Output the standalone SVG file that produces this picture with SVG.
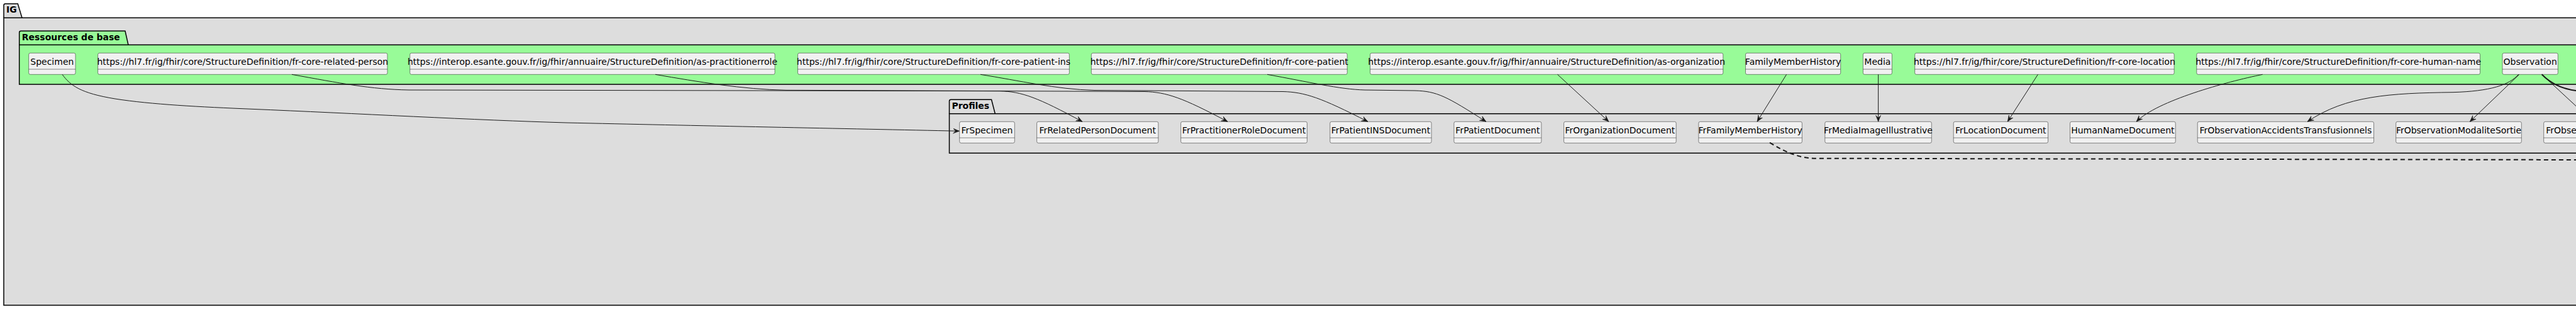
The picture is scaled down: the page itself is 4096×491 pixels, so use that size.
<svg xmlns="http://www.w3.org/2000/svg" width="4096" height="491" viewBox="0 0 4096 491">
<style>
.pkg{fill:#DDDDDD;stroke:#000000;stroke-width:1.5}
.pkgg{fill:#98FB98;stroke:#000000;stroke-width:1.5}
.ptitle{font-family:"DejaVu Sans",sans-serif;font-size:14px;font-weight:bold;fill:#000000}
.box{fill:#F1F1F1;stroke:#181818;stroke-width:0.5}
.sep{stroke:#181818;stroke-width:0.5}
.lbl{font-family:"DejaVu Sans",sans-serif;font-size:14px;fill:#000000;text-anchor:middle}
.edge{fill:none;stroke:#181818;stroke-width:1}
.thick{fill:none;stroke:#181818;stroke-width:2}
.dash{fill:none;stroke:#181818;stroke-width:2;stroke-dasharray:7,5}
</style>
<defs>
<marker id="arr" markerUnits="userSpaceOnUse" markerWidth="10" markerHeight="10" refX="10" refY="5" orient="auto">
<path d="M0,1 L10,5 L0,9 L4,5 Z" fill="#181818" stroke="#181818" stroke-width="0.5"/>
</marker>
</defs>

<g id="pkg-ig">
<path class="pkg" d="M6,28.3 L6,8.5 A2.5,2.5 0 0 1 8.5,6 L28.3,6 L35,28.3"/>
<rect class="pkg" x="6" y="28.3" width="4200" height="456.7"/>
<text class="ptitle" x="10" y="20.3">IG</text>
</g>

<g id="pkg-base">
<path class="pkgg" d="M30.7,71.3 L30.7,51.8 A2.5,2.5 0 0 1 33.2,49.3 L199,49.3 L204,71.3"/>
<rect class="pkgg" x="30.7" y="71.3" width="4200" height="62.7"/>
<text class="ptitle" x="34.7" y="64">Ressources de base</text>
</g>

<g id="pkg-profiles">
<path class="pkg" d="M1509.5,180.7 L1509.5,160.8 A2.5,2.5 0 0 1 1512,158.3 L1576.5,158.3 L1582.3,180.7"/>
<rect class="pkg" x="1509.5" y="180.7" width="2700" height="62.6"/>
<text class="ptitle" x="1513.4" y="172.5">Profiles</text>
</g>

<g id="n-specimen"><rect class="box" x="45.7" y="84.3" width="74.3" height="34" rx="2.5"/><line class="sep" x1="45.7" y1="110" x2="120" y2="110"/><text class="lbl" x="82.85" y="102.5">Specimen</text></g>
<g id="n-related-person"><rect class="box" x="155.6" y="84.3" width="460.4" height="34" rx="2.5"/><line class="sep" x1="155.6" y1="110" x2="616" y2="110"/><text class="lbl" x="385.8" y="102.5">https://hl7.fr/ig/fhir/core/StructureDefinition/fr-core-related-person</text></g>
<g id="n-as-practitionerrole"><rect class="box" x="651.8" y="84.3" width="580.3" height="34" rx="2.5"/><line class="sep" x1="651.8" y1="110" x2="1232.1" y2="110"/><text class="lbl" x="941.95" y="102.5">https://interop.esante.gouv.fr/ig/fhir/annuaire/StructureDefinition/as-practitionerrole</text></g>
<g id="n-patient-ins"><rect class="box" x="1268.5" y="84.3" width="431.8" height="34" rx="2.5"/><line class="sep" x1="1268.5" y1="110" x2="1700.3" y2="110"/><text class="lbl" x="1484.4" y="102.5">https://hl7.fr/ig/fhir/core/StructureDefinition/fr-core-patient-ins</text></g>
<g id="n-patient"><rect class="box" x="1735.3" y="84.3" width="406.9" height="34" rx="2.5"/><line class="sep" x1="1735.3" y1="110" x2="2142.2" y2="110"/><text class="lbl" x="1938.75" y="102.5">https://hl7.fr/ig/fhir/core/StructureDefinition/fr-core-patient</text></g>
<g id="n-as-organization"><rect class="box" x="2178.6" y="84.3" width="561.2" height="34" rx="2.5"/><line class="sep" x1="2178.6" y1="110" x2="2739.8" y2="110"/><text class="lbl" x="2459.2" y="102.5">https://interop.esante.gouv.fr/ig/fhir/annuaire/StructureDefinition/as-organization</text></g>
<g id="n-familymemberhistory"><rect class="box" x="2775.5" y="84.3" width="151.2" height="34" rx="2.5"/><line class="sep" x1="2775.5" y1="110" x2="2926.7" y2="110"/><text class="lbl" x="2851.1" y="102.5">FamilyMemberHistory</text></g>
<g id="n-media"><rect class="box" x="2962.4" y="84.3" width="46" height="34" rx="2.5"/><line class="sep" x1="2962.4" y1="110" x2="3008.4" y2="110"/><text class="lbl" x="2985.4" y="102.5">Media</text></g>
<g id="n-location"><rect class="box" x="3044.7" y="84.3" width="412.4" height="34" rx="2.5"/><line class="sep" x1="3044.7" y1="110" x2="3457.1" y2="110"/><text class="lbl" x="3250.9" y="102.5">https://hl7.fr/ig/fhir/core/StructureDefinition/fr-core-location</text></g>
<g id="n-human-name"><rect class="box" x="3492.8" y="84.3" width="450.7" height="34" rx="2.5"/><line class="sep" x1="3492.8" y1="110" x2="3943.5" y2="110"/><text class="lbl" x="3718.15" y="102.5">https://hl7.fr/ig/fhir/core/StructureDefinition/fr-core-human-name</text></g>
<g id="n-observation"><rect class="box" x="3979" y="84.3" width="88.3" height="34" rx="2.5"/><line class="sep" x1="3979" y1="110" x2="4067.3" y2="110"/><text class="lbl" x="4023.15" y="102.5">Observation</text></g>

<g id="p-frspecimen"><rect class="box" x="1525.7" y="193.3" width="87.6" height="34" rx="2.5"/><line class="sep" x1="1525.7" y1="219" x2="1613.3" y2="219"/><text class="lbl" x="1569.5" y="211.5">FrSpecimen</text></g>
<g id="p-frrelatedpersondocument"><rect class="box" x="1648.6" y="193.3" width="193.2" height="34" rx="2.5"/><line class="sep" x1="1648.6" y1="219" x2="1841.8" y2="219"/><text class="lbl" x="1745.2" y="211.5">FrRelatedPersonDocument</text></g>
<g id="p-frpractitionerroledocument"><rect class="box" x="1877.6" y="193.3" width="200.8" height="34" rx="2.5"/><line class="sep" x1="1877.6" y1="219" x2="2078.4" y2="219"/><text class="lbl" x="1978" y="211.5">FrPractitionerRoleDocument</text></g>
<g id="p-frpatientinsdocument"><rect class="box" x="2114.8" y="193.3" width="161.3" height="34" rx="2.5"/><line class="sep" x1="2114.8" y1="219" x2="2276.1" y2="219"/><text class="lbl" x="2195.45" y="211.5">FrPatientINSDocument</text></g>
<g id="p-frpatientdocument"><rect class="box" x="2311.9" y="193.3" width="139" height="34" rx="2.5"/><line class="sep" x1="2311.9" y1="219" x2="2450.9" y2="219"/><text class="lbl" x="2381.4" y="211.5">FrPatientDocument</text></g>
<g id="p-frorganizationdocument"><rect class="box" x="2486.6" y="193.3" width="178.6" height="34" rx="2.5"/><line class="sep" x1="2486.6" y1="219" x2="2665.2" y2="219"/><text class="lbl" x="2575.9" y="211.5">FrOrganizationDocument</text></g>
<g id="p-frfamilymemberhistory"><rect class="box" x="2700.9" y="193.3" width="164.5" height="34" rx="2.5"/><line class="sep" x1="2700.9" y1="219" x2="2865.4" y2="219"/><text class="lbl" x="2783.15" y="211.5">FrFamilyMemberHistory</text></g>
<g id="p-frmediaimageillustrative"><rect class="box" x="2901.8" y="193.3" width="169.5" height="34" rx="2.5"/><line class="sep" x1="2901.8" y1="219" x2="3071.3" y2="219"/><text class="lbl" x="2986.55" y="211.5">FrMediaImageIllustrative</text></g>
<g id="p-frlocationdocument"><rect class="box" x="3106.2" y="193.3" width="150.3" height="34" rx="2.5"/><line class="sep" x1="3106.2" y1="219" x2="3256.5" y2="219"/><text class="lbl" x="3181.35" y="211.5">FrLocationDocument</text></g>
<g id="p-humannamedocument"><rect class="box" x="3291.5" y="193.3" width="167.7" height="34" rx="2.5"/><line class="sep" x1="3291.5" y1="219" x2="3459.2" y2="219"/><text class="lbl" x="3375.35" y="211.5">HumanNameDocument</text></g>
<g id="p-frobservationaccidentstransfusionnels"><rect class="box" x="3494.2" y="193.3" width="280.3" height="34" rx="2.5"/><line class="sep" x1="3494.2" y1="219" x2="3774.5" y2="219"/><text class="lbl" x="3634.35" y="211.5">FrObservationAccidentsTransfusionnels</text></g>
<g id="p-frobservationmodalitesortie"><rect class="box" x="3809.7" y="193.3" width="199.6" height="34" rx="2.5"/><line class="sep" x1="3809.7" y1="219" x2="4009.3" y2="219"/><text class="lbl" x="3909.5" y="211.5">FrObservationModaliteSortie</text></g>
<g id="p-frobse"><rect class="box" x="4044.7" y="193.3" width="200" height="34" rx="2.5"/><line class="sep" x1="4044.7" y1="219" x2="4244.7" y2="219"/><text class="lbl" x="4048.3" y="211.5" style="text-anchor:start">FrObse</text></g>

<g id="connectors">
<path class="edge" marker-end="url(#arr)" d="M99,118.3 C112,136 128,148 183,157 C240,166 320,170 400,173.3 C560,180 760,191 900,195 C1100,199.5 1350,204.5 1525.5,208.3"/>
<path class="edge" marker-end="url(#arr)" d="M464,118.3 C540,132 590,142 650,143 L1590,144.7 C1625,145.5 1650,155 1721,193.3"/>
<path class="edge" marker-end="url(#arr)" d="M1042,118.3 C1110,130 1180,142 1250,143.3 L1820,145.5 C1855,146.5 1880,155 1952,193.3"/>
<path class="edge" marker-end="url(#arr)" d="M1559,118.3 C1620,128 1680,142 1740,143.5 L2040,145.5 C2075,146.5 2100,155 2175,193.3"/>
<path class="edge" marker-end="url(#arr)" d="M2015,118.3 C2080,130 2130,142 2170,143 L2250,144 C2285,145 2300,153 2363,193.3"/>
<path class="edge" marker-end="url(#arr)" d="M2476.5,118.3 L2558,193.3"/>
<path class="edge" marker-end="url(#arr)" d="M2840.6,118.3 L2794,193.3"/>
<path class="edge" marker-end="url(#arr)" d="M2986.6,118.3 L2986.6,193.3"/>
<path class="edge" marker-end="url(#arr)" d="M3240.4,118.3 L3192.2,193.3"/>
<path class="edge" marker-end="url(#arr)" d="M3597.6,118.3 C3540,130 3430,160 3397,193.3"/>
<path class="edge" marker-end="url(#arr)" d="M4004.5,118.3 C3990,135 3960,145 3900,146.7 C3800,148 3730,152 3669,193.3"/>
<path class="edge" marker-end="url(#arr)" d="M4005.7,118.3 L3927.3,193.3"/>
<path class="edge" d="M4041.7,118.3 L4130,200"/>
<path class="thick" d="M4041.7,118.3 C4055,132 4072,141 4096,144 L4160,146"/>
<path class="dash" d="M2814,226.7 C2840,242 2860,251.7 2890,251.7 L4100,254"/>
</g>
</svg>
